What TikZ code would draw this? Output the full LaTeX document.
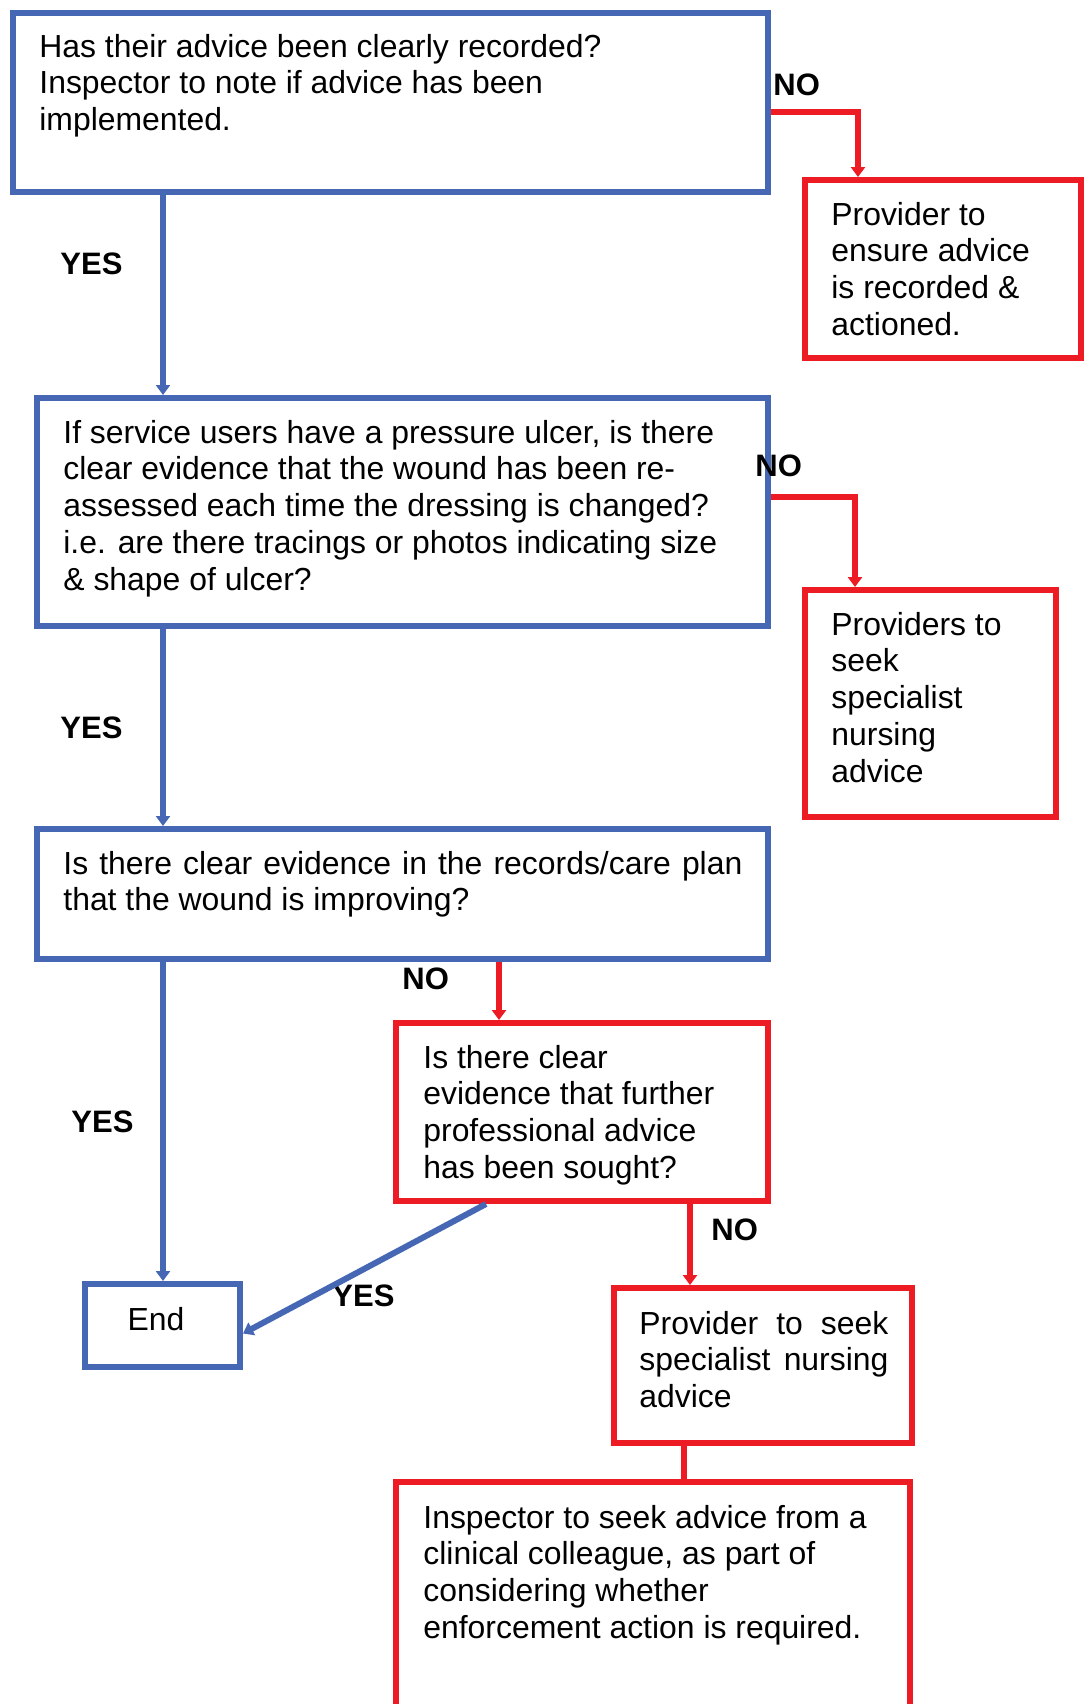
\documentclass[tikz,border=0pt]{standalone}
\usepackage{fontspec}
\setmainfont{Liberation Sans}
\usetikzlibrary{arrows.meta,fit}
\definecolor{fblue}{RGB}{70,104,180}
\definecolor{fred}{RGB}{237,28,36}
\begin{document}
\begin{tikzpicture}[x=0.5pt,y=-0.5pt,
  box/.style={draw, line width=3pt, inner sep=0pt},
  bbox/.style={box, draw=fblue},
  rbox/.style={box, draw=fred},
  txt/.style={anchor=base west, inner sep=0pt, align=left, font=\fontsize{15.95pt}{18.4pt}\selectfont},
  lbl/.style={anchor=base west, inner sep=0pt, font=\bfseries\fontsize{15.5pt}{18pt}\selectfont},
  tip/.style={-{Triangle[width=7pt,length=5pt]}},
  bl/.style={draw=fblue, line width=3pt, tip},
  rl/.style={draw=fred, line width=3pt, tip},
  rlnt/.style={draw=fred, line width=3pt}]
\useasboundingbox (0,0) rectangle (1083,1704);
% boxes
\node[bbox, fit={(13,13) (768,192)}] (b1) {};
\node[rbox, fit={(805,180) (1081,358)}] (b2) {};
\node[bbox, fit={(37,398) (768,626)}] (b3) {};
\node[rbox, fit={(805,590) (1056,817)}] (b4) {};
\node[bbox, fit={(37,829) (768,959)}] (b5) {};
\node[rbox, fit={(396,1023) (768,1201)}] (b6) {};
\node[bbox, fit={(85,1284) (240,1367)}] (e) {};
\node[rbox, fit={(614,1288) (912,1443)}] (b8) {};
\node[rbox, fit={(396,1482) (910,1730)}] (b9) {};
% texts (anchor at the baseline of the last line)
\node[txt] (t1) at (39,130.6) {Has their advice been clearly recorded?\\Inspector to note if advice has been\\implemented.};
\node[txt] (t2) at (831,335.4) {Provider to\\ensure advice\\is recorded \&\\actioned.};
\node[txt] (t3) at (63,590.2) {If service users have a pressure ulcer, is there\\clear evidence that the wound has been re-\\assessed each time the dressing is changed?\\i.e. are there tracings or photos indicating size\\\& shape of ulcer?};
\node[txt] (t4) at (831,782.2) {Providers to\\seek\\specialist\\nursing\\advice};
\node[txt] (t5) at (63,910.8) {\makebox[339.5pt][s]{Is there clear evidence in the records/care plan}\\that the wound is improving?};
\node[txt] (t6) at (423,1178.4) {Is there clear\\evidence that further\\professional advice\\has been sought?};
\node[txt, anchor=base] (te) at (156,1330) {End};
\node[txt] (t8) at (639,1407.6) {\makebox[124.5pt][s]{Provider to seek}\\\makebox[124.5pt][s]{specialist nursing}\\advice};
\node[txt] (t9) at (423,1638.4) {Inspector to seek advice from a\\clinical colleague, as part of\\considering whether\\enforcement action is required.};
% labels
\node[lbl] (n1) at (773,95) {NO};
\node[lbl] (y1) at (60,274) {YES};
\node[lbl] (n2) at (755,476) {NO};
\node[lbl] (y2) at (60,738) {YES};
\node[lbl] (n3) at (402,989) {NO};
\node[lbl] (y3) at (71,1132) {YES};
\node[lbl] (y4) at (332,1306) {YES};
\node[lbl] (n4) at (711,1240) {NO};
% helper coordinates
\coordinate (xl) at (163,0);
\coordinate (xa) at (858,0);
\coordinate (ya) at (0,112);
\coordinate (xb) at (855,0);
\coordinate (yb) at (0,497);
\coordinate (xc) at (499,0);
\coordinate (xd) at (486,0);
\coordinate (xf) at (690,0);
\coordinate (xg) at (684,0);
% connectors
\draw[bl] (b1.south -| xl) -- (b3.north -| xl);
\draw[bl] (b3.south -| xl) -- (b5.north -| xl);
\draw[bl] (b5.south -| xl) -- (e.north -| xl);
\draw[rl] (b1.east |- ya) -| (b2.north -| xa);
\draw[rl] (b3.east |- yb) -| (b4.north -| xb);
\draw[rl] (b5.south -| xc) -- (b6.north -| xc);
\draw[bl] (b6.south -| xd) -- ([yshift=-4pt]e.east);
\draw[rl] (b6.south -| xf) -- (b8.north -| xf);
\draw[rlnt] (b8.south -| xg) -- (b9.north -| xg);
\end{tikzpicture}
\end{document}
